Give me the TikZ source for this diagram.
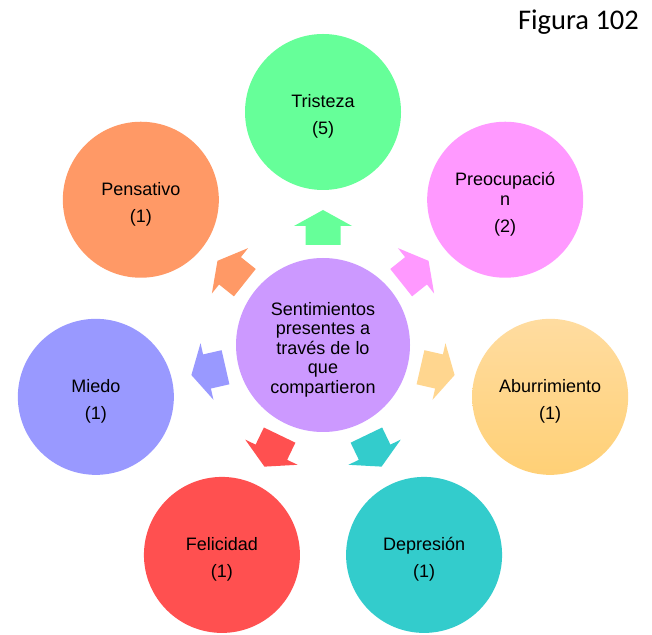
\documentclass[tikz,border=0pt]{standalone}
\usepackage{fontspec}
\setmainfont{Liberation Sans}
\newfontfamily\calibrifont{Carlito}
\usetikzlibrary{calc}
\definecolor{cTri}{RGB}{102,255,153}
\definecolor{cPre}{RGB}{255,153,255}
\definecolor{cAbu}{RGB}{255,214,143}
\definecolor{cAbuT}{RGB}{255,220,160}
\definecolor{cAbuB}{RGB}{255,208,118}
\definecolor{cDep}{RGB}{51,204,204}
\definecolor{cFel}{RGB}{255,80,80}
\definecolor{cMie}{RGB}{153,153,255}
\definecolor{cPen}{RGB}{255,153,102}
\definecolor{cCen}{RGB}{204,153,255}
\tikzset{
  outercirc/.style={circle, minimum size=156pt, inner sep=0pt},
  centercirc/.style={circle, minimum size=174pt, inner sep=0pt, fill=cCen},
  circtext/.style={align=center, inner sep=0pt, yshift=-4.5pt,
    font=\fontsize{18}{19.5}\selectfont, text=black},
}
\newcommand\blockarrowfig[2]{%
  \fill[#2, shift={(C)}, rotate=#1] (100,-17.5) -- (119,-17.5) -- (119,-29)
    -- (135,0) -- (119,29) -- (119,17.5) -- (100,17.5) -- cycle;}
\begin{document}
\begin{tikzpicture}[x=1pt,y=1pt]
\useasboundingbox (0,0) rectangle (652,634);
\fill[white] (0,0) rectangle (652,634);
\coordinate (C) at (323,289);
\node[centercirc] (cen) at (C) {};
\node[circtext] (cent) at (cen) {Sentimientos\\presentes a\\través de lo\\que\\compartieron};
\node[outercirc, fill=cTri] (tri) at ($(C)+(90:233)$) {};
\node[circtext] (trit) at (tri) {Tristeza\\[8pt](5)};
\node[outercirc, fill=cPre] (pre) at ($(C)+(38.57:233)$) {};
\node[circtext] (pret) at (pre) {Preocupació\\n\\[8pt](2)};
\node[outercirc, top color=cAbuT, bottom color=cAbuB] (abu) at ($(C)+(-12.86:233)$) {};
\node[circtext] (abut) at (abu) {Aburrimiento\\[8pt](1)};
\node[outercirc, fill=cDep] (dep) at ($(C)+(-64.29:233)$) {};
\node[circtext] (dept) at (dep) {Depresión\\[8pt](1)};
\node[outercirc, fill=cFel] (fel) at ($(C)+(-115.71:233)$) {};
\node[circtext] (felt) at (fel) {Felicidad\\[8pt](1)};
\node[outercirc, fill=cMie] (mie) at ($(C)+(-167.14:233)$) {};
\node[circtext] (miet) at (mie) {Miedo\\[8pt](1)};
\node[outercirc, fill=cPen] (pen) at ($(C)+(141.43:233)$) {};
\node[circtext] (pent) at (pen) {Pensativo\\[8pt](1)};
\blockarrowfig{90}{cTri}
\blockarrowfig{38.57}{cPre}
\blockarrowfig{-12.86}{cAbu}
\blockarrowfig{-64.29}{cDep}
\blockarrowfig{-115.71}{cFel}
\blockarrowfig{-167.14}{cMie}
\blockarrowfig{141.43}{cPen}
\node[anchor=base, font=\calibrifont\fontsize{28.5}{30}\selectfont] (fig) at (578.5,604) {Figura 102};
\end{tikzpicture}
\end{document}
